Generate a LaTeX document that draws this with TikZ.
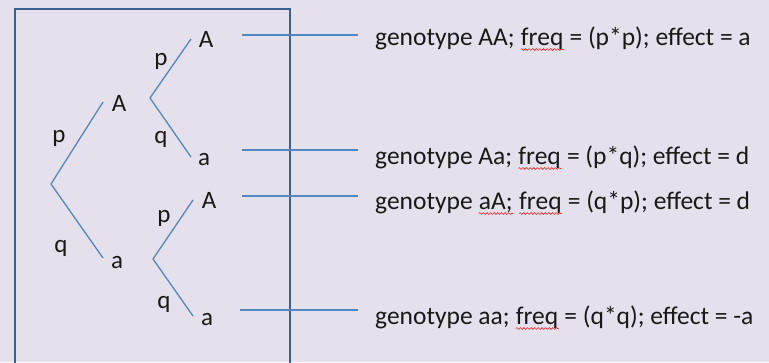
\documentclass[tikz,border=0pt]{standalone}
\usepackage{fontspec}
\setmainfont{Carlito}
\usetikzlibrary{decorations.pathmorphing}
\definecolor{bgpaper}{RGB}{228,224,236}
\definecolor{branch}{RGB}{84,134,194}
\definecolor{frame}{RGB}{60,96,142}
\definecolor{ink}{RGB}{25,25,25}
\definecolor{spell}{RGB}{232,40,40}
\tikzset{
  lbl/.style={inner sep=0pt, anchor=base, font=\fontsize{25}{30}\selectfont, text=ink},
  geno/.style={inner sep=0pt, anchor=base west, font=\fontsize{25.5}{30}\selectfont, text=ink},
  edge/.style={draw=branch, line width=1.3pt},
  guide/.style={draw=branch, line width=1.3pt},
  squig/.style={draw=spell, line width=0.6pt, decorate,
    decoration={snake, amplitude=0.9pt, segment length=3.6pt}},
}
\begin{document}
\begin{tikzpicture}[x=1pt,y=-1pt]
\fill[bgpaper] (0,0) rectangle (769,362);
\useasboundingbox (0,0) rectangle (769,362);
\clip (0,0) rectangle (769,362);

% frame around the tree
\draw[frame, line width=1.2pt] (15,9) rectangle (290,380);

% first generation
\coordinate (root) at (51,184);
\coordinate (endA) at (103,102);
\coordinate (enda) at (103,258);
\draw[edge] (root) -- (endA);
\draw[edge] (root) -- (enda);
\node[lbl] (A1) at (119,111) {A};
\node[lbl] (a1) at (117,268) {a};
\node[lbl] (p1) at (59,142) {p};
\node[lbl] (q1) at (61,252) {q};

% second generation, after A
\coordinate (vA) at (150,98);
\coordinate (endAA) at (191,39);
\coordinate (endAa) at (191,157);
\draw[edge] (vA) -- (endAA);
\draw[edge] (vA) -- (endAa);
\node[lbl] (AA) at (206,47) {A};
\node[lbl] (Aa) at (204,165) {a};
\node[lbl] (pA) at (161,65) {p};
\node[lbl] (qA) at (161,143) {q};

% second generation, after a
\coordinate (va) at (153,259);
\coordinate (endaA) at (193,200);
\coordinate (endaa) at (193,316);
\draw[edge] (va) -- (endaA);
\draw[edge] (va) -- (endaa);
\node[lbl] (aA) at (209,208) {A};
\node[lbl] (aa) at (207,325) {a};
\node[lbl] (pa) at (164,222) {p};
\node[lbl] (qa) at (164,308) {q};

% genotype descriptions (the space before each underlined word is kept with \mbox{})
\node[geno] (g1) at (375,45) {genotype AA;\ \mbox{}};
\node[geno] (f1) at (g1.base east) {freq};
\node[geno] (r1) at (f1.base east) {\ = (p*p); effect = a};

\node[geno] (g2) at (375,164) {genotype Aa;\ \mbox{}};
\node[geno] (f2) at (g2.base east) {freq};
\node[geno] (r2) at (f2.base east) {\ = (p*q); effect = d};

\node[geno] (g3) at (375,209) {genotype\ \mbox{}};
\node[geno] (w3) at (g3.base east) {aA;};
\node[geno] (s3) at (w3.base east) {\ \mbox{}};
\node[geno] (f3) at (s3.base east) {freq};
\node[geno] (r3) at (f3.base east) {\ = (q*p); effect = d};

\node[geno] (g4) at (375,324) {genotype aa;\ \mbox{}};
\node[geno] (f4) at (g4.base east) {freq};
\node[geno] (r4) at (f4.base east) {\ = (q*q); effect = -a};

% spelling marks
\draw[squig] ([yshift=-4.5pt]f1.base west) -- ([yshift=-4.5pt]f1.base east);
\draw[squig] ([yshift=-4.5pt]f2.base west) -- ([yshift=-4.5pt]f2.base east);
\draw[squig] ([yshift=-4.5pt]w3.base west) -- ([yshift=-4.5pt]w3.base east);
\draw[squig] ([yshift=-4.5pt]f3.base west) -- ([yshift=-4.5pt]f3.base east);
\draw[squig] ([yshift=-4.5pt]f4.base west) -- ([yshift=-4.5pt]f4.base east);

% leaders from the leaves to the descriptions
\coordinate (s1) at (242,35);  \coordinate (e1) at (358,35);
\coordinate (s2) at (242,150); \coordinate (e2) at (358,150);
\coordinate (s3c) at (242,196); \coordinate (e3) at (358,196);
\coordinate (s4) at (240,310); \coordinate (e4) at (358,310);
\draw[guide] (s1) -- (e1);
\draw[guide] (s2) -- (e2);
\draw[guide] (s3c) -- (e3);
\draw[guide] (s4) -- (e4);
\end{tikzpicture}
\end{document}
